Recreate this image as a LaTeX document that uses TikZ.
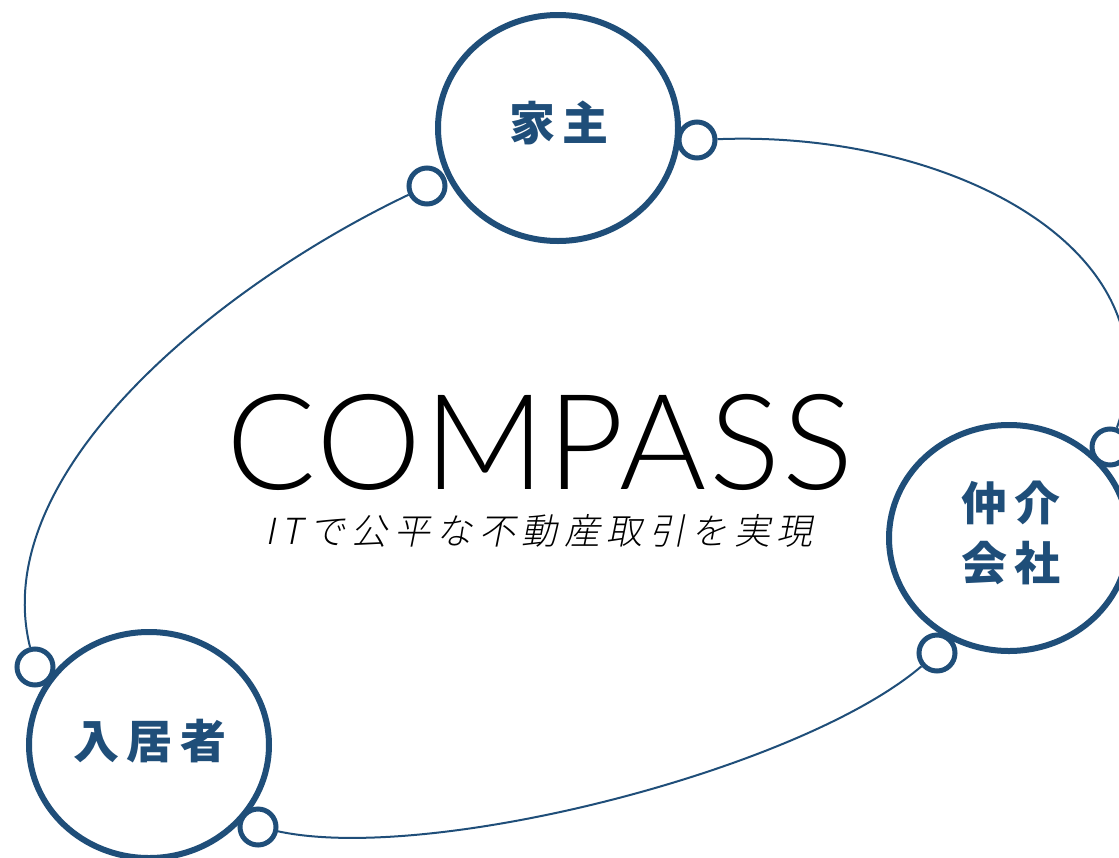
\documentclass[tikz,border=0pt]{standalone}
\usepackage{fontspec}
\usetikzlibrary{shapes.geometric,backgrounds}
\definecolor{navy}{HTML}{1F4E79}
\IfFontExistsTF{Lato Light}{%
  \newfontfamily\compassfont{Lato Light}[LetterSpace=1.6]
  \newcommand\compasssize{\fontsize{133}{133}\selectfont}%
}{%
  \newfontfamily\compassfont{Carlito}[LetterSpace=4]
  \newcommand\compasssize{\fontsize{142}{142}\selectfont}%
}
\IfFontExistsTF{Noto Sans CJK JP Light}{%
  \newfontfamily\subfont{Noto Sans CJK JP Light}[FakeSlant=0.2,LetterSpace=18]
}{%
  \newfontfamily\subfont{Noto Sans CJK JP}[FakeSlant=0.2,LetterSpace=18]
}
\newfontfamily\lblfont{Noto Sans CJK JP}[LetterSpace=16]
\begin{document}
\begin{tikzpicture}[x=1pt,y=-1pt,
  big/.style={ellipse, draw=navy, line width=6pt, fill=white, minimum width=240pt, minimum height=226pt, inner sep=0pt},
  lbl/.style={text=navy, font=\lblfont\bfseries\fontsize{46}{60}\selectfont, align=center, inner sep=0pt},
  knob/.style={circle, draw=navy, line width=5pt, fill=white, minimum size=36pt, inner sep=0pt},
  link/.style={draw=navy, line width=2pt}]
\useasboundingbox (0,0) rectangle (1119,857);

\node[big] (owner) at (558,128) {};
\node[big] (agent) at (1009,538) {};
\node[big] (tenant) at (149,745) {};
\node[lbl] (ownerT) at (559,123) {家主};
\node[lbl] (agentT) at (1011,533) {仲介\\会社};
\node[lbl] (tenantT) at (150,741) {入居者};

\node[knob] (k1) at (697,140) {};
\node[knob] (k2) at (1110,447) {};
\node[knob] (k3) at (937,653) {};
\node[knob] (k4) at (258,827) {};
\node[knob] (k5) at (35,667) {};
\node[knob] (k6) at (427,186) {};

\node[anchor=base, inner sep=0pt, text depth=0pt, font=\compassfont\compasssize] (title) at (540,489) {COMPASS};
\node[inner sep=0pt, font=\subfont\fontsize{36}{36}\selectfont] (sub) at (539,531) {ITで公平な不動産取引を実現};

\begin{scope}[on background layer]
\draw[link] (k1) .. controls (950,130) and (1180,250) .. (k2);
\draw[link] (k3) .. controls (800,770) and (430,864) .. (k4);
\draw[link] (k5) .. controls (-14,470) and (225,282) .. (k6);
\end{scope}
\end{tikzpicture}
\end{document}
